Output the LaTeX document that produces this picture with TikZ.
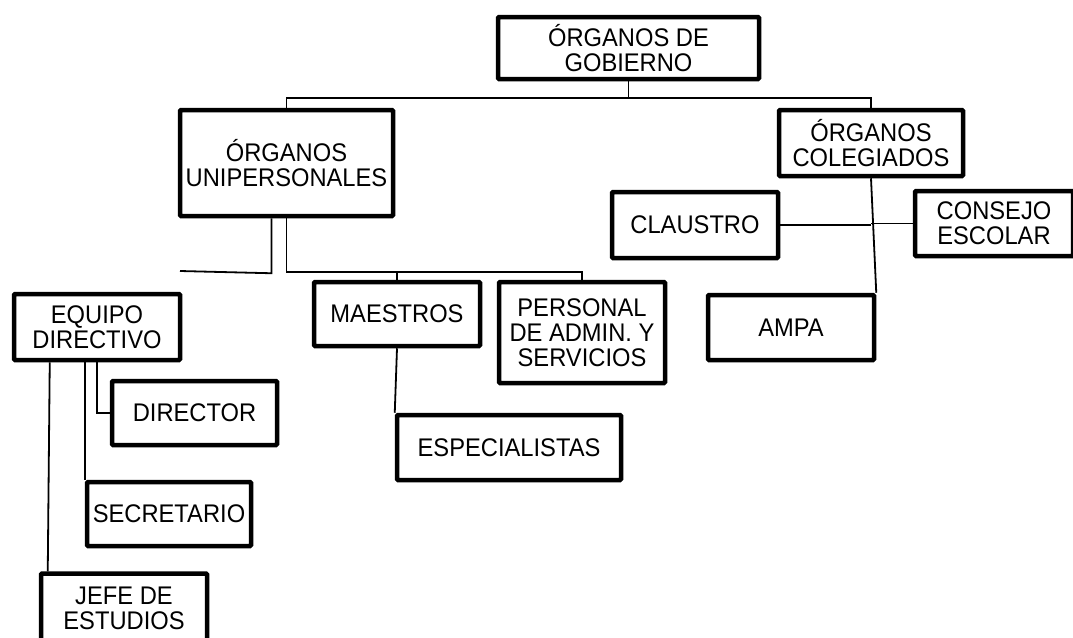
\documentclass[tikz,border=0pt]{standalone}
\usepackage{fontspec}
\setmainfont{Liberation Sans}[FakeStretch=0.93]
\begin{document}
\begin{tikzpicture}[x=1pt,y=-1pt,
  box/.style={draw=black, line width=4.5pt, rounded corners=1pt, fill=white,
    align=center, inner sep=0pt, font=\fontsize{25.5}{25}\selectfont},
  link/.style={draw=black, line width=1.8pt}]
\useasboundingbox (0,0) rectangle (1073,637);
\clip (0,0) rectangle (1073,637);
\fill[white] (0,0) rectangle (1073,637);
% nodes
\node[box, minimum width=261pt, minimum height=62pt] (gob) at (628.5,48) {ÓRGANOS DE\\GOBIERNO};
\node[box, minimum width=213pt, minimum height=106pt] (uni) at (286.5,163) {ÓRGANOS\\UNIPERSONALES};
\node[box, minimum width=184pt, minimum height=66pt] (col) at (871,143) {ÓRGANOS\\COLEGIADOS};
\node[box, minimum width=166pt, minimum height=66pt] (cla) at (695,225) {CLAUSTRO};
\node[box, minimum width=158pt, minimum height=65pt] (con) at (994,223.5) {CONSEJO\\ESCOLAR};
\node[box, minimum width=166pt, minimum height=65pt] (ampa) at (791,327.5) {AMPA};
\node[box, minimum width=166pt, minimum height=66pt] (equ) at (97,327) {EQUIPO\\DIRECTIVO};
\node[box, minimum width=165pt, minimum height=64pt] (dir) at (194.5,413) {DIRECTOR};
\node[box, minimum width=164pt, minimum height=64pt] (sec) at (169,514) {SECRETARIO};
\node[box, minimum width=166pt, minimum height=69pt] (jef) at (124,608) {JEFE DE\\ESTUDIOS};
\node[box, minimum width=166pt, minimum height=64pt] (mae) at (397,314) {MAESTROS};
\node[box, minimum width=166pt, minimum height=101pt] (per) at (582,332.5) {PERSONAL\\DE ADMIN. Y\\SERVICIOS};
\node[box, minimum width=224pt, minimum height=65pt] (esp) at (509,447.5) {ESPECIALISTAS};
\coordinate (free) at (180,271);
% connectors
\draw[link] (gob.south) -- ++(0,17) coordinate (bus);
\draw[link] (uni.north) |- (bus) -| (col.north);
\draw[link] (col.south) -- (ampa.north east);
\draw[link] (cla.east) -- (cla.east -| col.south);
\draw[link] (con.west) -- (con.west -| col.south);
\draw[link] ([xshift=-15pt]uni.south) -- ++(0,55) -- (free);
\draw[link] (uni.south) -- ++(0,54) coordinate (ubus) -| (per.north);
\draw[link] (ubus -| mae.north) -- (mae.north);
\draw[link] (mae.south) -- (esp.north west);
\draw[link] (equ.south) |- (dir.west);
\draw[link] (equ.south -| sec.north west) -- (sec.north west);
\draw[link] ([xshift=38pt]equ.south west) -- ([xshift=9pt]jef.north west);
\end{tikzpicture}
\end{document}
